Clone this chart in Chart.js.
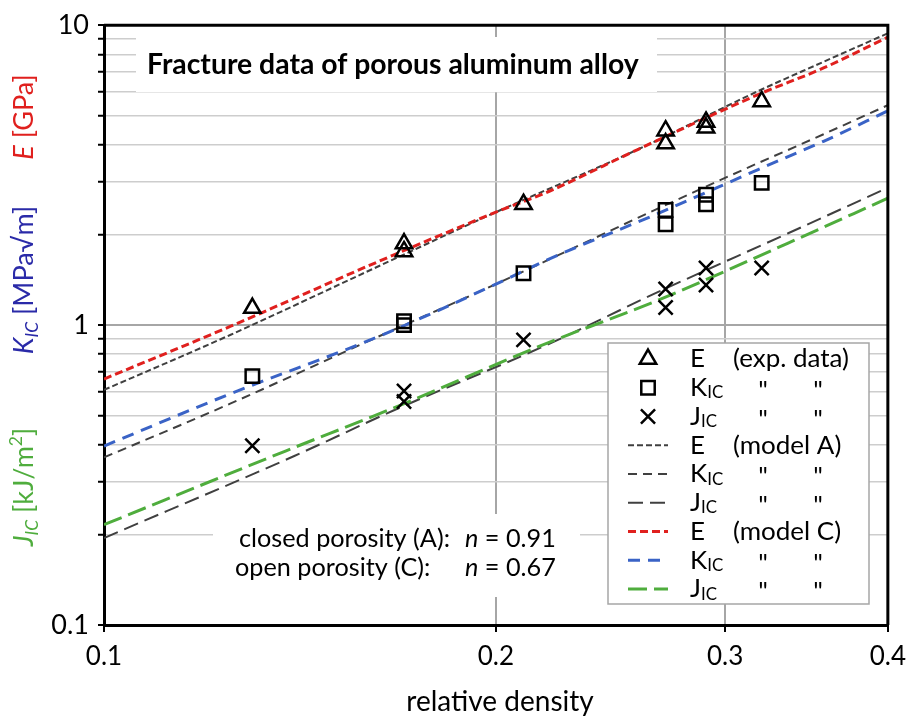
<!DOCTYPE html>
<html>
<head>
<meta charset="utf-8">
<script src="https://cdn.jsdelivr.net/npm/chart.js@4.4.0/dist/chart.umd.min.js"></script>
<style>
  html, body { margin: 0; padding: 0; background: #fff; }
  #wrap { width: 915px; height: 719px; }
</style>
</head>
<body>
<div id="wrap"><canvas id="fractureChart" width="915" height="719"></canvas></div>
<script>
// experimental data (relative density vs. E, K_IC, J_IC)
var expDensity = [0.13, 0.17, 0.17, 0.21, 0.27, 0.27, 0.29, 0.29, 0.32];
var expE = [1.14, 1.87, 1.76, 2.53, 4.45, 4.03, 4.76, 4.55, 5.57];
var expK = [0.676, 1.00, 1.03, 1.49, 2.42, 2.17, 2.72, 2.53, 2.98];
var expJ = [0.396, 0.603, 0.556, 0.893, 1.32, 1.145, 1.55, 1.36, 1.55];

// model curves
var modelEAx = [0.1, 0.125, 0.1625, 0.2, 0.257, 0.318, 0.357, 0.4];
var modelEAy = [0.608, 0.927, 1.571, 2.38, 3.85, 6.03, 7.55, 9.40];
var modelECx = [0.1, 0.125, 0.1625, 0.2, 0.22, 0.257, 0.318, 0.357, 0.4];
var modelECy = [0.661, 0.99, 1.63, 2.38, 2.80, 3.85, 5.87, 7.20, 9.12];
var modelKAx = [0.1, 0.125, 0.1625, 0.2, 0.266, 0.318, 0.335, 0.357, 0.4];
var modelKAy = [0.362, 0.547, 0.916, 1.37, 2.44, 3.47, 3.83, 4.33, 5.41];
var modelKCx = [0.1, 0.125, 0.1625, 0.2, 0.219, 0.266, 0.318, 0.335, 0.357, 0.4];
var modelKCy = [0.395, 0.59, 0.916, 1.37, 1.65, 2.35, 3.30, 3.64, 4.10, 5.18];
var modelJAx = [0.1, 0.14, 0.167, 0.219, 0.266, 0.335, 0.4];
var modelJAy = [0.195, 0.366, 0.52, 0.86, 1.285, 2.02, 2.87];
var modelJCx = [0.1, 0.138, 0.167, 0.219, 0.266, 0.335, 0.4];
var modelJCy = [0.216, 0.381, 0.53, 0.871, 1.207, 1.874, 2.65];

// ticks
var xTickValues = [0.1, 0.2, 0.3, 0.4];
var xTickLabels = ['0.1', '0.2', '0.3', '0.4'];
var yTickValues = [0.1, 0.2, 0.3, 0.4, 0.5, 0.6, 0.7, 0.8, 0.9,
                   1, 2, 3, 4, 5, 6, 7, 8, 9, 10];
var yTickLabels = ['0.1', '', '', '', '', '', '', '', '',
                   '1', '', '', '', '', '', '', '', '', '10'];

var FONT = 'Lato, "Open Sans", sans-serif';
var GRAY = '#404040';
var RED = '#e0201e';
var BLUE = '#3a63c6';
var GREEN = '#4fad3d';

function pts(xs, ys) {
    return xs.map(function (x, i) { return { x: x, y: ys[i] }; });
}

function isDecade(v) {
    var l = Math.log10(v);
    return Math.abs(l - Math.round(l)) < 1e-6;
}

function fitSize(c, text, weight, width) {
    c.font = weight + ' 100px ' + FONT;
    return 100 * width / c.measureText(text).width;
}

// text made of runs (italic / subscript / superscript pieces)
function runsWidth(c, runs, size) {
    var w = 0;
    runs.forEach(function (r) {
        var s = (r.sub || r.sup) ? size * 0.65 : size;
        c.font = (r.italic ? 'italic ' : '') + s + 'px ' + FONT;
        w += c.measureText(r.t).width;
    });
    return w;
}

function drawRuns(c, runs, size) {
    var pos = 0;
    runs.forEach(function (r) {
        var s = (r.sub || r.sup) ? size * 0.65 : size;
        c.font = (r.italic ? 'italic ' : '') + s + 'px ' + FONT;
        var dy = r.sub ? size * 0.2 : (r.sup ? -size * 0.4 : 0);
        c.fillText(r.t, pos, dy);
        pos += c.measureText(r.t).width;
    });
}

function legendSymbol(c, style, x, y) {
    c.save();
    c.strokeStyle = '#000';
    c.lineWidth = 2.5;
    c.beginPath();
    if (style === 'triangle') {
        var r = 9.5;
        for (var k = 0; k < 3; k++) {
            var a = k * 2 * Math.PI / 3;
            var px = x + Math.sin(a) * r, py = y - Math.cos(a) * r;
            if (k === 0) c.moveTo(px, py); else c.lineTo(px, py);
        }
        c.closePath();
    } else if (style === 'rect') {
        var h = 9.5 * Math.SQRT1_2;
        c.rect(x - h, y - h, 2 * h, 2 * h);
    } else {
        var d = 10 * Math.SQRT1_2;
        c.moveTo(x - d, y - d); c.lineTo(x + d, y + d);
        c.moveTo(x + d, y - d); c.lineTo(x - d, y + d);
    }
    c.stroke();
    c.restore();
}

var decorPlugin = {
    id: 'decor',
    beforeDatasetsDraw: function (chart) {
        var c = chart.ctx;
        c.save();
        c.fillStyle = '#fff';
        c.fillRect(136, 37, 521, 55);    // title box
        c.fillRect(213, 514, 367, 83);   // annotation box
        c.restore();
    },
    afterDatasetsDraw: function (chart) {
        var c = chart.ctx;
        c.save();

        // title
        var title = 'Fracture data of porous aluminum alloy';
        var ts = fitSize(c, title, 'bold', 492);
        c.font = 'bold ' + ts + 'px ' + FONT;
        c.fillStyle = '#000';
        c.textAlign = 'left';
        c.textBaseline = 'middle';
        c.fillText(title, 147, 65);

        // porosity annotation
        var as = fitSize(c, 'closed porosity (A):', 'normal', 211);
        c.textBaseline = 'alphabetic';
        c.font = as + 'px ' + FONT;
        c.fillText('closed porosity (A):', 239, 547);
        c.fillText('open porosity (C):', 235, 576);
        [['0.91', 547], ['0.67', 576]].forEach(function (row) {
            c.save();
            c.translate(465, row[1]);
            drawRuns(c, [{ t: 'n', italic: true }, { t: ' = ' + row[0] }], as);
            c.restore();
        });

        // legend
        c.fillStyle = '#fff';
        c.fillRect(608, 343, 261, 261);
        c.strokeStyle = '#a6a6a6';
        c.lineWidth = 1.5;
        c.strokeRect(608, 343, 261, 261);

        var rows = [
            { sym: 'triangle', name: 'E', note: '(exp. data)' },
            { sym: 'rect', name: 'K', sub: 'IC' },
            { sym: 'cross', name: 'J', sub: 'IC' },
            { color: GRAY, width: 2, dash: [6, 3], name: 'E', note: '(model A)' },
            { color: GRAY, width: 2, dash: [9, 6], name: 'K', sub: 'IC' },
            { color: GRAY, width: 2, dash: [15, 7], name: 'J', sub: 'IC' },
            { color: RED, width: 3, dash: [8, 4], name: 'E', note: '(model C)' },
            { color: BLUE, width: 3, dash: [12, 8], name: 'K', sub: 'IC' },
            { color: GREEN, width: 3, dash: [19, 7], name: 'J', sub: 'IC' }
        ];
        var ls = fitSize(c, '(exp. data)', 'normal', 116);
        rows.forEach(function (r, i) {
            var y = 359 + i * 28.75;
            if (r.sym) {
                legendSymbol(c, r.sym, 648, y);
            } else {
                c.save();
                c.strokeStyle = r.color;
                c.lineWidth = r.width;
                c.setLineDash(r.dash);
                c.beginPath();
                c.moveTo(628, y);
                c.lineTo(668, y);
                c.stroke();
                c.restore();
            }
            c.fillStyle = '#000';
            c.textBaseline = 'middle';
            c.textAlign = 'left';
            c.save();
            c.translate(690, y);
            var runs = [{ t: r.name }];
            if (r.sub) runs.push({ t: r.sub, sub: true });
            drawRuns(c, runs, ls);
            c.restore();
            c.font = ls + 'px ' + FONT;
            if (r.note) {
                c.fillText(r.note, 733, y);
            } else {
                c.textAlign = 'center';
                c.fillText('"', 763, y + 3);
                c.fillText('"', 818, y + 3);
            }
        });
        c.restore();
    },
    afterDraw: function (chart) {
        var c = chart.ctx;
        var a = chart.chartArea;
        c.save();

        // top and right frame
        c.strokeStyle = '#000';
        c.lineWidth = 3;
        c.beginPath();
        c.moveTo(a.left, a.top);
        c.lineTo(a.right, a.top);
        c.lineTo(a.right, a.bottom);
        c.stroke();

        // x-axis title
        c.fillStyle = '#000';
        c.font = '28px ' + FONT;
        c.textAlign = 'center';
        c.textBaseline = 'middle';
        c.fillText('relative density', 500, 702);

        // multicoloured y-axis title
        var size = 27;
        var labels = [
            { color: GREEN, center: 487, runs: [{ t: 'J', italic: true }, { t: 'IC', italic: true, sub: true }, { t: ' [kJ/m' }, { t: '2', sup: true }, { t: ']' }] },
            { color: '#2a2aa8', center: 280, runs: [{ t: 'K', italic: true }, { t: 'IC', italic: true, sub: true }, { t: ' [MPa\u221Am]' }] },
            { color: RED, center: 117, runs: [{ t: 'E', italic: true }, { t: ' [GPa]' }] }
        ];
        labels.forEach(function (l) {
            var w = runsWidth(c, l.runs, size);
            c.save();
            c.translate(33, l.center + w / 2);
            c.rotate(-Math.PI / 2);
            c.fillStyle = l.color;
            c.textAlign = 'left';
            c.textBaseline = 'alphabetic';
            drawRuns(c, l.runs, size);
            c.restore();
        });
        c.restore();
    }
};

var ctx = document.getElementById('fractureChart').getContext('2d');
new Chart(ctx, {
    type: 'line',
    data: {
        datasets: [
            { label: 'E exp', data: pts(expDensity, expE), showLine: false, pointStyle: 'triangle',
              pointRadius: 9.5, pointBorderWidth: 2.5, pointBorderColor: '#000', pointBackgroundColor: 'rgba(0,0,0,0)' },
            { label: 'K exp', data: pts(expDensity, expK), showLine: false, pointStyle: 'rect',
              pointRadius: 9.5, pointBorderWidth: 2.5, pointBorderColor: '#000', pointBackgroundColor: 'rgba(0,0,0,0)' },
            { label: 'J exp', data: pts(expDensity, expJ), showLine: false, pointStyle: 'crossRot',
              pointRadius: 10, pointBorderWidth: 2.5, pointBorderColor: '#000', pointBackgroundColor: 'rgba(0,0,0,0)' },
            { label: 'E model C', data: pts(modelECx, modelECy), borderColor: RED, borderWidth: 3,
              borderDash: [8, 4], pointRadius: 0, cubicInterpolationMode: 'monotone' },
            { label: 'K model C', data: pts(modelKCx, modelKCy), borderColor: BLUE, borderWidth: 3,
              borderDash: [12, 8], pointRadius: 0, cubicInterpolationMode: 'monotone' },
            { label: 'J model C', data: pts(modelJCx, modelJCy), borderColor: GREEN, borderWidth: 3,
              borderDash: [19, 7], pointRadius: 0, cubicInterpolationMode: 'monotone' },
            { label: 'E model A', data: pts(modelEAx, modelEAy), borderColor: GRAY, borderWidth: 2,
              borderDash: [6, 3], pointRadius: 0, cubicInterpolationMode: 'monotone' },
            { label: 'K model A', data: pts(modelKAx, modelKAy), borderColor: GRAY, borderWidth: 2,
              borderDash: [9, 6], pointRadius: 0, cubicInterpolationMode: 'monotone' },
            { label: 'J model A', data: pts(modelJAx, modelJAy), borderColor: GRAY, borderWidth: 2,
              borderDash: [15, 7], pointRadius: 0, cubicInterpolationMode: 'monotone' }
        ]
    },
    options: {
        responsive: false,
        animation: false,
        devicePixelRatio: 1,
        layout: { padding: { top: 14, right: 24, bottom: 0, left: 0 } },
        plugins: { legend: { display: false }, tooltip: { enabled: false } },
        scales: {
            x: {
                type: 'logarithmic',
                min: 0.1,
                max: 0.4,
                afterBuildTicks: function (scale) {
                    scale.ticks = xTickValues.map(function (v) { return { value: v }; });
                },
                afterFit: function (scale) { scale.height = 94; },
                ticks: {
                    autoSkip: false,
                    maxRotation: 0,
                    padding: 9,
                    color: '#000',
                    font: { family: FONT, size: 26 },
                    callback: function (v, i) { return xTickLabels[i]; }
                },
                grid: { color: '#a6a6a6', lineWidth: 2, tickColor: '#000', tickWidth: 2, tickLength: 7 },
                border: { color: '#000', width: 3 }
            },
            y: {
                type: 'logarithmic',
                min: 0.1,
                max: 10,
                afterBuildTicks: function (scale) {
                    scale.ticks = yTickValues.map(function (v) { return { value: v, major: isDecade(v) }; });
                },
                afterFit: function (scale) { scale.width = 104; },
                ticks: {
                    autoSkip: false,
                    padding: 9,
                    color: '#000',
                    font: { family: FONT, size: 27 },
                    callback: function (v, i) { return yTickLabels[i]; }
                },
                grid: {
                    color: function (c) { return c.tick && isDecade(c.tick.value) ? '#a6a6a6' : '#cdcdcd'; },
                    lineWidth: function (c) { return c.tick && isDecade(c.tick.value) ? 2 : 1.5; },
                    tickColor: '#000',
                    tickWidth: 2,
                    tickLength: 6
                },
                border: { color: '#000', width: 3 }
            }
        }
    },
    plugins: [decorPlugin]
});
</script>
</body>
</html>
